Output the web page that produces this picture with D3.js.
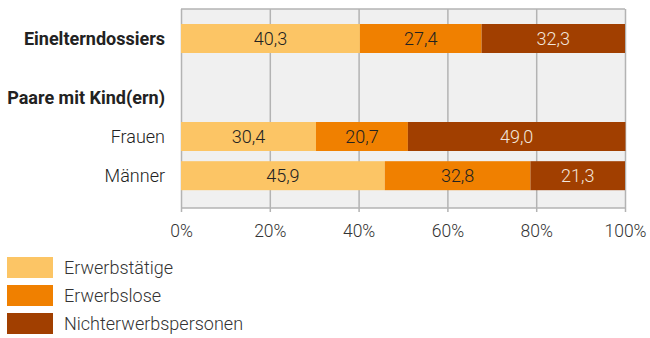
<!DOCTYPE html>
<html><head><meta charset="utf-8">
<script src="https://cdn.jsdelivr.net/npm/d3@7"></script>
<style>body{margin:0;background:#fff}text{font-family:Roboto,sans-serif}</style>
</head><body>
<svg id="c" width="650" height="338"></svg>
<script>
const categories = ["Einelterndossiers", "Paare mit Kind(ern)", "Frauen", "Männer"];
const boldRows = ["Einelterndossiers", "Paare mit Kind(ern)"];
const seriesNames = ["Erwerbstätige", "Erwerbslose", "Nichterwerbspersonen"];
const erwerbstaetige = [40.3, null, 30.4, 45.9];
const erwerbslose = [27.4, null, 20.7, 32.8];
const nichterwerbspersonen = [32.3, null, 49.0, 21.3];
const tickValues = [0, 20, 40, 60, 80, 100];
const colors = ["#fcc565", "#f08000", "#a13f00"];

(function () {
const svg = d3.select("#c");
const x = d3.scaleLinear().domain([0, 100]).range([181, 625]);
const rowIndex = {"Einelterndossiers": 0, "Paare mit Kind(ern)": 1.5, "Frauen": 2.5, "Männer": 3.5};
const y = d3.scaleLinear().domain([0, 1]).range([38.5, 77.7]);
const barH = 29, plotTop = 9, plotBottom = 208;

svg.append("rect").attr("x", x(0)).attr("y", plotTop).attr("width", x(100) - x(0)).attr("height", plotBottom - plotTop).attr("fill", "#f0f0f0");

const ax = d3.axisBottom(x).tickValues(tickValues).tickSize(plotBottom - plotTop + 4).tickFormat(d => d + "%");
const g = svg.append("g").attr("transform", `translate(0,${plotTop})`).call(ax);
g.select(".domain").remove();
g.selectAll(".tick line").attr("stroke", "#b3b3b3").attr("stroke-width", 1.5);
g.selectAll(".tick text").attr("font-size", 17.5).attr("fill", "#333").attr("font-weight", 300).attr("dy", "0").attr("y", 237 - plotTop);
svg.append("line").attr("x1", x(0)).attr("x2", x(100)).attr("y1", plotTop).attr("y2", plotTop).attr("stroke", "#b3b3b3").attr("stroke-width", 1.5);
svg.append("line").attr("x1", x(0)).attr("x2", x(100)).attr("y1", plotBottom).attr("y2", plotBottom).attr("stroke", "#b3b3b3").attr("stroke-width", 1.5);

const series = [erwerbstaetige, erwerbslose, nichterwerbspersonen];
categories.forEach((cat, i) => {
  const cy = y(rowIndex[cat]);
  svg.append("text").attr("x", 165).attr("y", cy).attr("dy", "0.35em").attr("text-anchor", "end")
    .attr("font-size", 18).attr("fill", "#222").attr("font-weight", boldRows.includes(cat) ? 700 : 300).text(cat);
  if (series[0][i] == null) return;
  let cum = 0;
  series.forEach((s, k) => {
    const v = s[i];
    svg.append("rect").attr("x", x(cum)).attr("y", cy - barH / 2).attr("width", x(cum + v) - x(cum)).attr("height", barH).attr("fill", colors[k]);
    svg.append("text").attr("x", (x(cum) + x(cum + v)) / 2).attr("y", cy).attr("dy", "0.36em").attr("text-anchor", "middle")
      .attr("font-size", 18).attr("font-weight", 300).attr("fill", k === 2 ? "#f2e6dc" : "#222")
      .text(d3.format(".1f")(v).replace(".", ","));
    cum += v;
  });
});

const lg = svg.append("g");
seriesNames.forEach((n, k) => {
  const ly = 257 + k * 28;
  lg.append("rect").attr("x", 7).attr("y", ly).attr("width", 46).attr("height", 21).attr("fill", colors[k]);
  lg.append("text").attr("x", 64).attr("y", ly + 11).attr("dy", "0.35em").attr("font-size", 18).attr("font-weight", 300).attr("fill", "#333").text(n);
});
})();
</script>
</body></html>
